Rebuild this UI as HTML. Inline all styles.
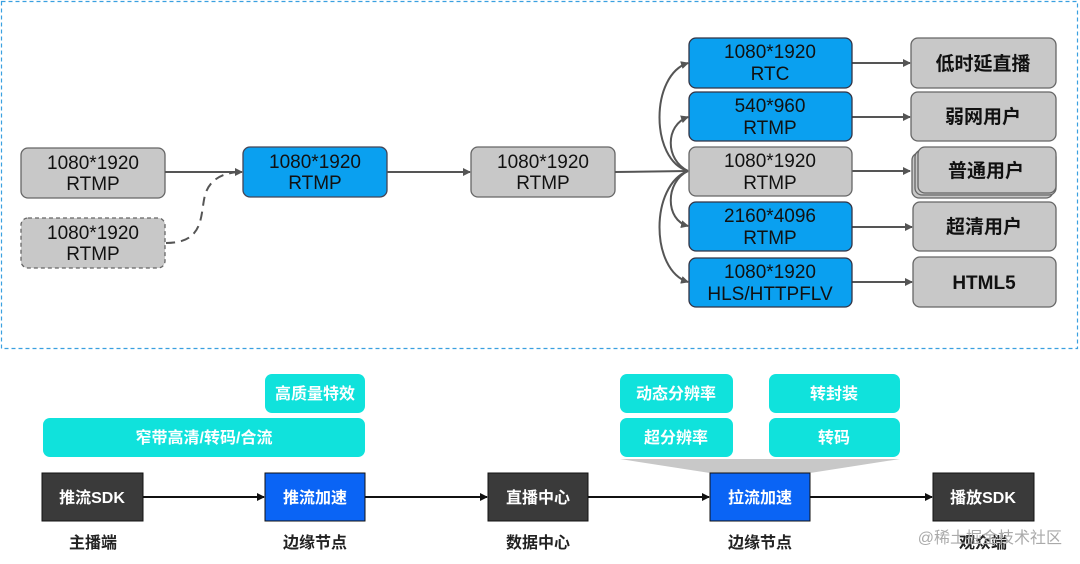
<!DOCTYPE html>
<html><head><meta charset="utf-8"><style>
html,body{margin:0;padding:0;background:#fff;}
svg{display:block;font-family:"Liberation Sans","Noto Sans CJK SC",sans-serif;}
.t{font-size:19px;fill:#111;text-anchor:middle;}
.c{font-size:16px;fill:#fff;text-anchor:middle;font-weight:bold;}
.l{font-size:16px;fill:#222;text-anchor:middle;font-weight:bold;}
</style></head><body>
<svg width="1080" height="564" viewBox="0 0 1080 564" xmlns="http://www.w3.org/2000/svg">
<defs>
<marker id="a" markerWidth="8" markerHeight="8" refX="7" refY="4" orient="auto" markerUnits="userSpaceOnUse"><path d="M0,0 L8,4 L0,8 z" fill="#555"/></marker>
<marker id="b" markerWidth="8" markerHeight="8" refX="7" refY="4" orient="auto" markerUnits="userSpaceOnUse"><path d="M0,0 L8,4 L0,8 z" fill="#111"/></marker>
</defs>
<rect x="1.5" y="1.5" width="1076" height="347" fill="none" stroke="#3aa0e0" stroke-width="1.2" stroke-dasharray="4,3"/>
<!-- left boxes -->
<rect x="21" y="148" width="144" height="50" rx="7" fill="#c8c8c8" stroke="#666" stroke-width="1.3"/>
<text class="t" x="93" y="169">1080*1920</text><text class="t" x="93" y="190">RTMP</text>
<rect x="21" y="218" width="144" height="50" rx="7" fill="#c8c8c8" stroke="#666" stroke-width="1.3" stroke-dasharray="4,3"/>
<text class="t" x="93" y="239">1080*1920</text><text class="t" x="93" y="260">RTMP</text>
<rect x="243" y="147" width="144" height="50" rx="7" fill="#0aa0f0" stroke="#445" stroke-width="1.3"/>
<text class="t" x="315" y="168">1080*1920</text><text class="t" x="315" y="189">RTMP</text>
<rect x="471" y="147" width="144" height="50" rx="7" fill="#c8c8c8" stroke="#666" stroke-width="1.3"/>
<text class="t" x="543" y="168">1080*1920</text><text class="t" x="543" y="189">RTMP</text>
<g stroke="#555" stroke-width="2" fill="none">
<line x1="165" y1="172" x2="242" y2="172" marker-end="url(#a)"/>
<path d="M166,243 C205,243 200,215 205,195 C210,178 225,172 242,172" stroke-dasharray="9,6"/>
<line x1="387" y1="172" x2="470" y2="172" marker-end="url(#a)"/>
<line x1="615" y1="172" x2="688" y2="171"/>
<path d="M688,171 C650,160 650,75 688,63" marker-end="url(#a)"/>
<path d="M688,171 C665,160 665,125 688,117" marker-end="url(#a)"/>
<path d="M688,171 C665,182 665,220 688,226" marker-end="url(#a)"/>
<path d="M688,171 C650,185 650,270 688,282" marker-end="url(#a)"/>
<line x1="852" y1="63" x2="910" y2="63" marker-end="url(#a)"/>
<line x1="852" y1="117" x2="910" y2="117" marker-end="url(#a)"/>
<line x1="852" y1="171" x2="910" y2="171" marker-end="url(#a)"/>
<line x1="852" y1="227" x2="912" y2="227" marker-end="url(#a)"/>
<line x1="852" y1="282" x2="912" y2="282" marker-end="url(#a)"/>
</g>
<!-- right column -->
<g stroke="#334" stroke-width="1.3">
<rect x="689" y="38" width="163" height="50" rx="7" fill="#0aa0f0"/>
<rect x="689" y="92" width="163" height="49" rx="7" fill="#0aa0f0"/>
<rect x="689" y="147" width="163" height="49" rx="7" fill="#c8c8c8" stroke="#666"/>
<rect x="689" y="202" width="163" height="49" rx="7" fill="#0aa0f0"/>
<rect x="689" y="258" width="163" height="49" rx="7" fill="#0aa0f0"/>
</g>
<text class="t" x="770" y="58">1080*1920</text><text class="t" x="770" y="80">RTC</text>
<text class="t" x="770" y="112">540*960</text><text class="t" x="770" y="134">RTMP</text>
<text class="t" x="770" y="167">1080*1920</text><text class="t" x="770" y="189">RTMP</text>
<text class="t" x="770" y="222">2160*4096</text><text class="t" x="770" y="244">RTMP</text>
<text class="t" x="770" y="278">1080*1920</text><text class="t" x="770" y="300">HLS/HTTPFLV</text>
<g fill="#c8c8c8" stroke="#666" stroke-width="1.3">
<rect x="911" y="38" width="145" height="50" rx="7"/>
<rect x="911" y="92" width="145" height="49" rx="7"/>
<rect x="912" y="153" width="141" height="45" rx="7"/>
<rect x="915" y="150" width="141" height="45" rx="7"/>
<rect x="918" y="147" width="138" height="46" rx="7"/>
<rect x="913" y="202" width="143" height="49" rx="7"/>
<rect x="913" y="257" width="143" height="50" rx="7"/>
</g>
<g class="t" style="font-weight:bold">
<text class="t" x="983" y="70">低时延直播</text>
<text class="t" x="983" y="123">弱网用户</text>
<text class="t" x="986" y="177">普通用户</text>
<text class="t" x="984" y="233">超清用户</text>
<text class="t" x="984" y="289">HTML5</text>
</g>
<!-- bottom -->
<g fill="#10e2dc">
<rect x="265" y="374" width="100" height="39" rx="7"/>
<rect x="43" y="418" width="322" height="39" rx="7"/>
<rect x="620" y="374" width="113" height="39" rx="7"/>
<rect x="769" y="374" width="131" height="39" rx="7"/>
<rect x="620" y="418" width="113" height="39" rx="7"/>
<rect x="769" y="418" width="131" height="39" rx="7"/>
</g>
<polygon points="620,459 900,459 810,473 710,473" fill="#c8c8c8"/>
<text class="c" x="315" y="399">高质量特效</text>
<text class="c" x="204" y="443">窄带高清/转码/合流</text>
<text class="c" x="676" y="399">动态分辨率</text>
<text class="c" x="834" y="399">转封装</text>
<text class="c" x="676" y="443">超分辨率</text>
<text class="c" x="834" y="443">转码</text>
<g stroke="#111" stroke-width="2">
<line x1="143" y1="497" x2="264" y2="497" marker-end="url(#b)"/>
<line x1="365" y1="497" x2="487" y2="497" marker-end="url(#b)"/>
<line x1="588" y1="497" x2="709" y2="497" marker-end="url(#b)"/>
<line x1="810" y1="497" x2="932" y2="497" marker-end="url(#b)"/>
</g>
<g stroke="#111" stroke-width="1">
<rect x="42" y="473" width="101" height="48" fill="#3a3a3a"/>
<rect x="265" y="473" width="100" height="48" fill="#0a64f5"/>
<rect x="488" y="473" width="100" height="48" fill="#3a3a3a"/>
<rect x="710" y="473" width="100" height="48" fill="#0a64f5"/>
<rect x="933" y="473" width="101" height="48" fill="#3a3a3a"/>
</g>
<text class="c" x="92" y="503">推流SDK</text>
<text class="c" x="315" y="503">推流加速</text>
<text class="c" x="538" y="503">直播中心</text>
<text class="c" x="760" y="503">拉流加速</text>
<text class="c" x="983" y="503">播放SDK</text>
<text class="l" x="93" y="548">主播端</text>
<text class="l" x="315" y="548">边缘节点</text>
<text class="l" x="538" y="548">数据中心</text>
<text class="l" x="760" y="548">边缘节点</text>
<text class="l" x="983" y="548">观众端</text>
<text x="1062" y="543" style="font-size:16px;fill:#aaa;text-anchor:end">@稀土掘金技术社区</text>
</svg>
</body></html>
